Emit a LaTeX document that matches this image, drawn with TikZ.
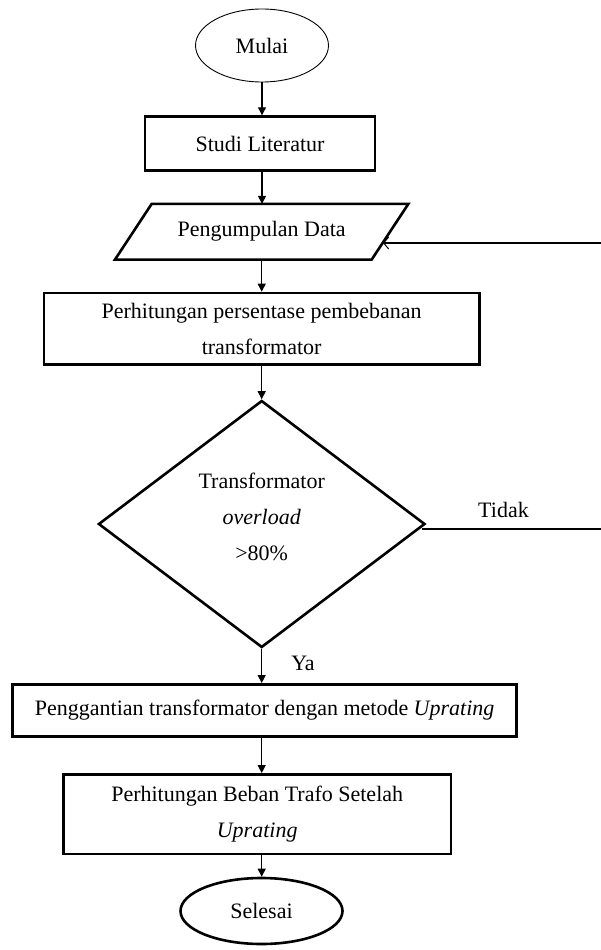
\documentclass[tikz,border=0pt]{standalone}
\usepackage{fontspec}
\setmainfont{Liberation Serif}
\usetikzlibrary{arrows.meta,shapes.geometric,calc}
\begin{document}
\begin{tikzpicture}[x=1pt,y=-1pt,
  every node/.style={font=\fontsize{22}{36}\selectfont},
  boxnode/.style={draw, line width=2.6pt, rectangle, inner sep=0pt, align=center},
  thinoval/.style={draw, ellipse, line width=0.9pt, inner sep=0pt},
  thickoval/.style={draw, ellipse, line width=2.6pt, inner sep=0pt},
  decision/.style={draw, diamond, line width=2.6pt, inner sep=0pt},
  plainline/.style={line width=1.1pt},
  flow/.style={line width=1.1pt, -{Triangle[length=8pt,width=8pt]}},
  backflow/.style={line width=1.1pt, -{Straight Barb[length=5pt,width=12pt,line width=1pt]}},
  lbl/.style={inner sep=0pt}
]
\fill[white] (0,0) rectangle (601,950);
\useasboundingbox (0,0) rectangle (601,950);

% nodes
\node[thinoval, minimum width=133, minimum height=73] (mulai) at (262,45.5) {Mulai};
\node[boxnode, minimum width=230, minimum height=54] (studi) at (260,143.6) {Studi Literatur};
\node[lbl, minimum width=256.3, minimum height=55.3] (data) at (261.7,231.7) {Pengumpulan Data};
\draw[line width=2.6pt, line join=miter]
  ($(data.south west)+(-18.35,0)$) -- ($(data.north west)+(18.35,0)$) --
  ($(data.north east)+(18.35,0)$) -- ($(data.south east)+(-18.35,0)$) -- cycle;
\node[boxnode, minimum width=435.3, minimum height=71.7] (hitung) at (261.65,328.85)
  {Perhitungan persentase pembebanan\\transformator};
\node[decision, minimum width=326.6, minimum height=247] (dec) at (261.7,524) {};
\node[lbl, align=center] (dectext) at (261.7,517) {Transformator\\\textit{overload}\\>80\%};
\node[lbl] (tidak) at (503.5,510) {Tidak};
\node[lbl] (ya) at (303,663) {Ya};
\node[boxnode, minimum width=504, minimum height=52.4] (ganti) at (264.7,710.5)
  {Penggantian transformator dengan metode \textit{Uprating}};
\node[boxnode, minimum width=387.7, minimum height=79.7] (beban) at (257.2,814.2)
  {Perhitungan Beban Trafo Setelah\\\textit{Uprating}};
\node[thickoval, minimum width=162, minimum height=66] (selesai) at (261.5,911) {Selesai};

\coordinate (fbin) at (383,243);
\coordinate (fbend) at (601,243);
\coordinate (tidakend) at (601,529);

% connectors
\draw[flow] (mulai.south) -- (mulai.south |- studi.north);
\draw[flow] (mulai.south |- studi.south) -- (mulai.south |- data.north);
\draw[flow] (data.south) -- (data.south |- hitung.north);
\draw[flow] (data.south |- hitung.south) -- (dec.north);
\draw[flow] (dec.south) -- (dec.south |- ganti.north);
\draw[flow] (dec.south |- ganti.south) -- (dec.south |- beban.north);
\draw[flow] (dec.south |- beban.south) -- (dec.south |- selesai.north);
\draw[plainline] ([shift={(-4,5)}]dec.east) -- (tidakend);
\draw[backflow] (fbend) -- (fbin);
\end{tikzpicture}
\end{document}
